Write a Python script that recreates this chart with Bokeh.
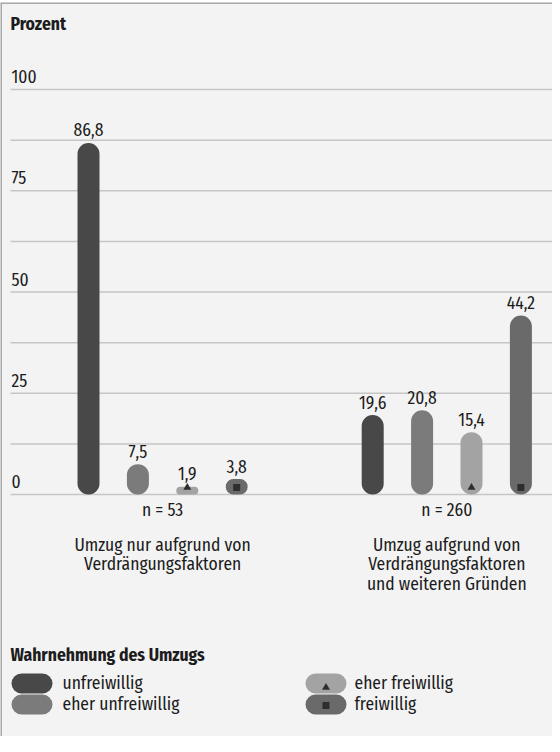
from bokeh.plotting import figure
from bokeh.models import Range1d, ColumnDataSource
from bokeh.core.properties import value
from bokeh.embed import file_html
from bokeh.resources import INLINE

# ---------------- data ----------------
groups = ["Umzug nur aufgrund von\nVerdrängungsfaktoren",
          "Umzug aufgrund von\nVerdrängungsfaktoren\nund weiteren Gründen"]
group_n = [53, 260]
series = ["unfreiwillig", "eher unfreiwillig", "eher freiwillig", "freiwillig"]
values_g1 = [86.8, 7.5, 1.9, 3.8]
values_g2 = [19.6, 20.8, 15.4, 44.2]
y_ticks = [0, 25, 50, 75, 100]
grid_ticks = [0, 12.5, 25, 37.5, 50, 62.5, 75, 87.5, 100]
colors = ["#484848", "#7b7b7b", "#a3a3a3", "#6a6a6a"]
bottom_markers = [None, None, "triangle", "square"]

# ---------------- layout helpers (page pixels -> data) ----------------
FONT = value("'Fira Sans Condensed', 'Roboto Condensed', sans-serif")
FS = "17.5px"
TXT = "#1c1c1c"
W, H = 552, 736
TOP_PAD = 2
SLOT_PX = 49.4          # px per x unit (bar slot)
X0_PX = 96              # page x of first bar centre
Y0_PX = 502             # page y of value 0
PX_PER_UNIT = 4.05      # page px per percent
GROUP_GAP = 1.753       # extra slots between groups
LABEL_GAP = 13          # px between a value and its label baseline

def dx(px):
    return (px - X0_PX) / SLOT_PX

def dy(py):
    return (Y0_PX - py) / PX_PER_UNIT

x_start = dx(8)
x_end = dx(8 + W)
y_start = dy(8 + H)
y_end = dy(8 + TOP_PAD)

p = figure(width=W, height=H, x_range=Range1d(x_start, x_end),
           y_range=Range1d(y_start, y_end), output_backend="svg",
           toolbar_location=None, x_axis_location=None, y_axis_location=None,
           min_border=0, min_border_top=TOP_PAD,
           background_fill_color="#f3f3f3", border_fill_color="white",
           outline_line_color=None)
p.grid.visible = False

# border (left and top)
p.segment(x0=[x_start, x_start], y0=[y_start, y_end], x1=[x_start, x_end],
          y1=[y_end, y_end], line_color="#a9a9a9", line_width=3)

# grid lines
p.segment(x0=[dx(18)] * len(grid_ticks), y0=grid_ticks,
          x1=[x_end] * len(grid_ticks), y1=grid_ticks,
          line_color="#c6c6c6", line_width=1.5)

# tick labels
p.text(x=[dx(19)] * len(y_ticks), y=[t + LABEL_GAP / PX_PER_UNIT for t in y_ticks],
       text=[str(t) for t in y_ticks], text_font=FONT, text_font_size=FS,
       text_color=TXT, text_align="left", text_baseline="alphabetic")

p.text(x=[dx(18)], y=[dy(32)], text=["Prozent"], text_font=FONT,
       text_font_size=FS, text_font_style="bold", text_color=TXT,
       text_align="left", text_baseline="middle")

# bars
all_vals = [values_g1, values_g2]
bar_w = 22 / SLOT_PX
xs, tops, cols, labels = [], [], [], []
mk = {"triangle": ([], []), "square": ([], [])}
for g, vals in enumerate(all_vals):
    for i, v in enumerate(vals):
        x = g * (len(series) + GROUP_GAP) + i
        xs.append(x)
        tops.append(v)
        cols.append(colors[i])
        labels.append(f"{v:.1f}".replace(".", ","))
        if bottom_markers[i]:
            mk[bottom_markers[i]][0].append(x)
            mk[bottom_markers[i]][1].append(7 / PX_PER_UNIT)

src = ColumnDataSource(dict(x=xs, top=tops, color=cols, label=labels,
                            ly=[t + LABEL_GAP / PX_PER_UNIT for t in tops]))
p.vbar(x="x", top="top", bottom=0, width=bar_w, fill_color="color",
       line_color=None, border_radius=11, source=src)
p.scatter(x=mk["triangle"][0], y=mk["triangle"][1], marker="triangle", size=8,
          fill_color="#2e2e2e", line_color=None)
p.scatter(x=mk["square"][0], y=mk["square"][1], marker="square", size=7,
          fill_color="#2e2e2e", line_color=None)
p.text(x="x", y="ly", text="label", source=src, text_font=FONT,
       text_font_size=FS, text_color=TXT, text_align="center",
       text_baseline="alphabetic")

# group labels
gx = [g * (len(series) + GROUP_GAP) + (len(series) - 1) / 2 for g in range(len(groups))]
p.text(x=gx, y=[dy(518)] * len(groups), text=[f"n = {n}" for n in group_n],
       text_font=FONT, text_font_size=FS, text_color=TXT,
       text_align="center", text_baseline="middle")
p.text(x=gx, y=[dy(542)] * len(groups), text=groups, text_font=FONT,
       text_font_size=FS, text_color=TXT, text_align="center",
       text_baseline="top", text_line_height=0.95)

# legend
p.text(x=[dx(18)], y=[dy(663)], text=["Wahrnehmung des Umzugs"], text_font=FONT,
       text_font_size=FS, text_font_style="bold", text_color=TXT,
       text_align="left", text_baseline="middle")
col_sw = [19, 313]
col_tx = [70, 362]
row_y = [691, 712]
for i, s in enumerate(series):
    c, r = i // 2, i % 2
    cy = row_y[r]
    p.quad(left=[dx(col_sw[c])], right=[dx(col_sw[c] + 41)], top=[dy(cy - 10)],
           bottom=[dy(cy + 10)], fill_color=colors[i], line_color=None,
           border_radius=10)
    if bottom_markers[i] == "triangle":
        p.scatter(x=[dx(col_sw[c] + 20.5)], y=[dy(cy + 4)], marker="triangle",
                  size=8, fill_color="#2e2e2e", line_color=None)
    elif bottom_markers[i] == "square":
        p.scatter(x=[dx(col_sw[c] + 20.5)], y=[dy(cy + 1)], marker="square",
                  size=7, fill_color="#2e2e2e", line_color=None)
    p.text(x=[dx(col_tx[c])], y=[dy(cy)], text=[s], text_font=FONT,
           text_font_size=FS, text_color=TXT, text_align="left",
           text_baseline="middle")

open("out.html", "w").write(file_html(p, INLINE))
